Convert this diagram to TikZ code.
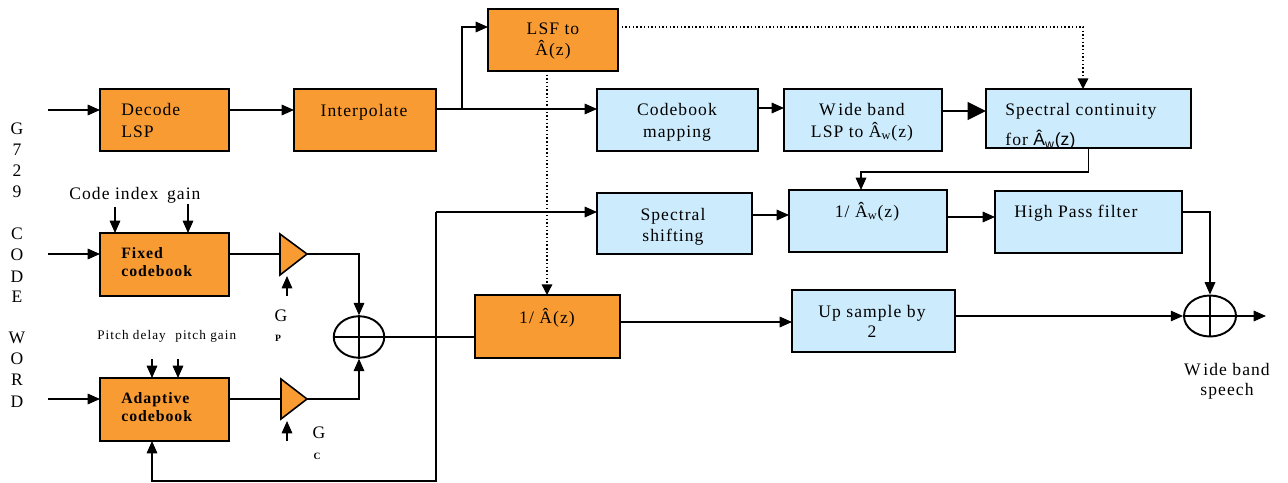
\documentclass[tikz,border=0pt]{standalone}
\usepackage{fontspec}
\setmainfont{Liberation Serif}[LetterSpace=6]
\newfontfamily\sansA{Liberation Sans}
\usetikzlibrary{arrows.meta,shapes.geometric,fit,calc}
\definecolor{boxorange}{HTML}{F99B33}
\definecolor{boxblue}{HTML}{CCEBFC}
\tikzset{
  blk/.style={draw, line width=1.1pt, inner sep=0pt, outer sep=0pt},
  oblk/.style={blk, fill=boxorange},
  bblk/.style={blk, fill=boxblue},
  txt/.style={inner sep=0pt, anchor=base, font=\fontsize{10}{12}\selectfont},
  txtl/.style={txt, anchor=base west},
  cbtxt/.style={txtl, font=\fontsize{9}{11}\selectfont\bfseries},
  wire/.style={line width=0.8pt},
  arr/.style={wire, -{Triangle[length=7pt,width=6pt]}},
  bigarr/.style={line width=1.7pt, -{Triangle[length=10.5pt,width=10pt]}},
  dots/.style={line width=0.8pt, dash pattern=on 0.8pt off 1.3pt},
  dotarr/.style={dots, -{Triangle[length=6pt,width=6pt]}},
  sum/.style={draw, ellipse, line width=1.1pt, inner sep=0pt},
  gain/.style={line width=0.9pt, fill=boxorange},
}
\begin{document}
\begin{tikzpicture}[x=0.02cm,y=-0.02cm]
\useasboundingbox (0,0) rectangle (1288,483);

% ---- blocks ----
\node[oblk, fit={(100,89)(229,151)}] (dec) {};
\node[oblk, fit={(294,89)(436,151)}] (ip) {};
\node[oblk, fit={(488,9)(618,71)}] (lsf) {};
\node[bblk, fit={(597,89)(758,151)}] (cm) {};
\node[bblk, fit={(784,89)(942,151)}] (wb) {};
\node[bblk, fit={(986,89)(1191,148)}] (sc) {};
\node[bblk, fit={(597,193)(752,254)}] (ss) {};
\node[bblk, fit={(789,190)(947,252)}] (aw) {};
\node[bblk, fit={(995,191)(1182,253)}] (hp) {};
\node[oblk, fit={(475,295)(620,358)}] (ia) {};
\node[bblk, fit={(792,290)(955,352)}] (up) {};
\node[oblk, fit={(100,233)(229,296)}] (fc) {};
\node[oblk, fit={(100,378)(229,441)}] (ac) {};

% ---- adders ----
\node[sum, minimum width=1.01cm, minimum height=0.83cm] (s1) at (359,337) {};
\node[sum, minimum width=1.04cm, minimum height=0.82cm] (s2) at (1210,316) {};
\draw[wire] (s1.north) -- (s1.south) (s1.west) -- (s1.east);
\draw[wire] (s2.north) -- (s2.south) (s2.west) -- (s2.east);

% ---- gain stages ----
\coordinate (gp) at (307,254);
\coordinate (gc) at (307,399);
\draw[gain] (280,234) -- (gp) -- (280,275) -- cycle;
\draw[gain] (281,379) -- (gc) -- (281,419) -- cycle;

% ---- block texts ----
\node[txtl] (tdec1) at (121,115) {Decode};
\node[txtl] (tdec2) at (121,137) {LSP};
\node[txt] (tip) at (364,116) {Interpolate};
\node[txt] (tlsf1) at (553,35) {LSF to};
\node[txt] (tlsf2) at (553,56) {Â(z)};
\node[txt] (tcm1) at (677,115) {Codebook};
\node[txt] (tcm2) at (677,137) {mapping};
\node[txt] (twb1) at (862,115) {W\kern1.5pt ide band};
\node[txt] (twb2) at (862,137) {LSP to Â\textsubscript{w}(z)};
\node[txtl] (tsc1) at (1005,115) {Spectral continuity};
\node[txtl] (tsc2) at (1005,146) {for {\sansA Â\textsubscript{w}(z)}};
\node[txt] (tss1) at (673,220) {Spectral};
\node[txt] (tss2) at (673,241) {shifting};
\node[txt] (taw) at (867,217) {1/ Â\textsubscript{w}(z)};
\node[txtl] (thp) at (1014,217) {High Pass filter};
\node[txt] (tia) at (547,323) {1/ Â(z)};
\node[txt] (tup1) at (872,317) {Up sample by};
\node[txt] (tup2) at (872,337) {2};
\node[txt] (tout1) at (1227,375) {W\kern1.5pt ide band};
\node[txt] (tout2) at (1227,395) {speech};
\node[cbtxt] (tfc1) at (121,258) {Fixed};
\node[cbtxt] (tfc2) at (121,276) {codebook};
\node[cbtxt] (tac1) at (121,403) {Adaptive};
\node[cbtxt] (tac2) at (121,421) {codebook};
\node[txtl] (tci) at (69,199) {Code index\hspace{5pt}gain};
\node[txtl, font=\fontsize{7.5}{9}\selectfont\addfontfeature{LetterSpace=8}] (tpd) at (97,339) {Pitch delay\hspace{3pt} pitch gain};
\node[txt] (tgp) at (281,321) {G};
\node[txt, font=\fontsize{5.5}{6}\selectfont\bfseries] (tgps) at (278,341) {P};
\node[txt] (tgc) at (319,438) {G};
\node[txt, font=\fontsize{5.5}{6}\selectfont\bfseries] (tgcs) at (317,459) {C};

% ---- vertical input label ----
\foreach \ch/\yy in {G/134,7/155,2/176,9/197,C/239,O/260,D/282,E/302,W/343,O/364,R/385,D/407}
  \node[txt, name=v\yy] at (17,\yy) {\ch};

% ---- connectors: LSP path ----
\coordinate (in0) at (48,110);
\draw[arr] (in0) -- (in0 -| dec.west);
\draw[arr] (dec.east |- in0) -- (ip.west |- in0);
\coordinate (br) at (462,109);
\draw[wire] (ip.east |- br) -- (br);
\draw[arr] (br) -- (cm.west |- br);
\draw[arr] (br) |- (lsf.west |- 0,27);
\draw[dotarr] (lsf.east |- 0,27) -| (sc.north -| 1083,0);
\draw[dotarr] (lsf.south -| 547,0) -- (ia.north -| 547,0);
\draw[arr] (cm.east |- 0,108) -- (wb.west |- 0,108);
\draw[bigarr] (wb.east |- 0,111) -- (sc.west |- 0,111);
\coordinate (k1) at (861,172);
\draw[arr] (sc.south) |- (k1) -- (k1 |- aw.north);
\draw[arr] (ss.east |- 0,215) -- (aw.west |- 0,215);
\draw[arr] (aw.east |- 0,217) -- (hp.west |- 0,217);
\draw[arr] (hp.east |- 0,212) -| (s2.north);
\draw[arr] (up.east |- s2.west) -- (s2.west);
\coordinate (outp) at (1266,316);
\draw[arr] (s2.east) -- (outp);
\draw[arr] (ia.east |- 0,322) -- (up.west |- 0,322);

% ---- connectors: excitation path ----
\coordinate (in1) at (48,254);
\coordinate (in2) at (48,399);
\draw[arr] (in1) -- (in1 -| fc.west);
\draw[arr] (in2) -- (in2 -| ac.west);
\coordinate (ci1) at (115,207);
\coordinate (ci2) at (188,204);
\coordinate (pd1) at (152,359);
\coordinate (pd2) at (178,359);
\draw[arr] (ci1) -- (ci1 |- fc.north);
\draw[arr] (ci2) -- (ci2 |- fc.north);
\draw[arr] (pd1) -- (pd1 |- ac.north);
\draw[arr] (pd2) -- (pd2 |- ac.north);
\draw[wire] (fc.east |- gp) -- (280,254);
\draw[wire] (ac.east |- gc) -- (281,399);
\coordinate (gpi) at (287,296);
\coordinate (gci) at (287,441);
\draw[arr] (gpi) -- (287,276);
\draw[arr] (gci) -- (287,421);
\draw[arr] (gp) -| (s1.north);
\draw[arr] (gc) -| (s1.south);
\draw[wire] (s1.east) -- (s1.east -| ia.west);
\coordinate (fb) at (436,212);
\draw[arr] (fb) -- (fb -| ss.west);
\draw[arr] (fb) -- (436,481) -| (ac.south -| 152,0);
\end{tikzpicture}
\end{document}
